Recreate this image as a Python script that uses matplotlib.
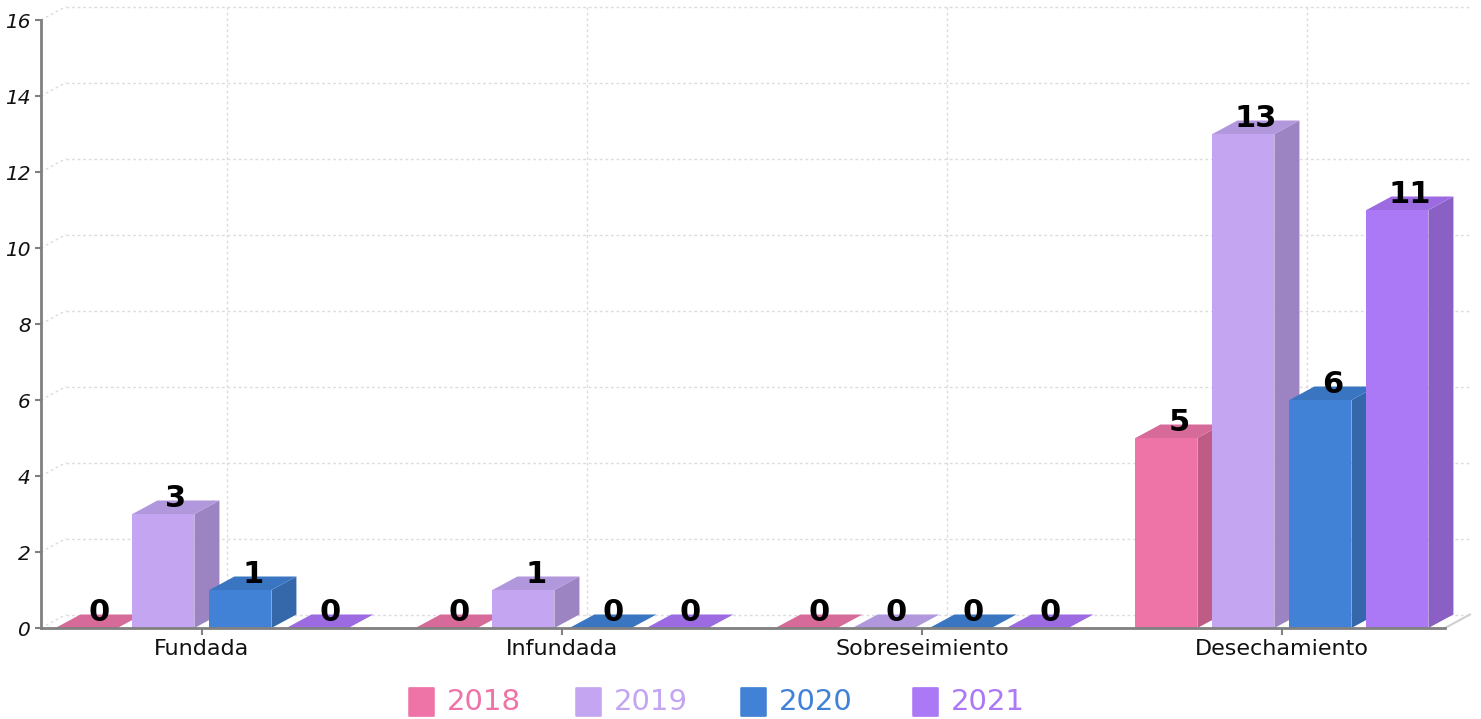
import matplotlib
matplotlib.use("Agg")
import matplotlib.pyplot as plt
from matplotlib.patches import Polygon, FancyBboxPatch

# Resoluciones por tipo y año
categorias = ["Fundada", "Infundada", "Sobreseimiento", "Desechamiento"]
anios = ["2018", "2019", "2020", "2021"]
valores = {
    "2018": [0, 0, 0, 5],
    "2019": [3, 1, 0, 13],
    "2020": [1, 0, 0, 6],
    "2021": [0, 0, 0, 11],
}
y_ticks = list(range(0, 17, 2))

# colores: frente, lado, tapa
colores = {
    "2018": ("#EE74A8", "#BE5C86", "#D66A99"),
    "2019": ("#C4A5F2", "#9C84C2", "#B197DC"),
    "2020": ("#4182D6", "#3468AB", "#3A75C2"),
    "2021": ("#AB78F6", "#8A60C5", "#9C6BE2"),
}

W, H = 1481, 719
fig = plt.figure(figsize=(W / 100, H / 100), dpi=100)
ax_l, ax_b, ax_w, ax_h = 41, 91, 1404, 608
ax = fig.add_axes([ax_l / W, ax_b / H, ax_w / W, ax_h / H])
x0, x1 = -0.447, 3.453
ax.set_xlim(x0, x1)
ax.set_ylim(0, 16)

# profundidad del efecto 3D en unidades de datos
ux = (x1 - x0) / ax_w
uy = 16 / ax_h
DX = 25 * ux
DY = 13.5 * uy

grid_kw = dict(color="#dcdcdc", lw=1, ls=(0, (2, 2)), clip_on=False, zorder=0)
for v in y_ticks:
    ax.plot([x0, x0 + DX], [v, v + DY], **grid_kw)
    ax.plot([x0 + DX, x1 + DX], [v + DY, v + DY], **grid_kw)
for i in range(len(categorias)):
    ax.plot([i + DX, i + DX], [DY, 16 + DY], **grid_kw)
# borde derecho del piso
ax.plot([x1, x1 + DX], [0, DY], color="#d0d0d0", lw=1.5, clip_on=False, zorder=1)

ancho = 62 * ux
paso = 77 * ux
n = len(anios)
for i, cat in enumerate(categorias):
    for j, anio in enumerate(anios):
        v = valores[anio][i]
        xl = i + (j - (n - 1) / 2) * paso - ancho / 2
        xr = xl + ancho
        frente, lado, tapa = colores[anio]
        z = 3 + j
        if v > 0:
            ax.add_patch(Polygon([(xr, 0), (xr + DX, DY), (xr + DX, v + DY), (xr, v)],
                                 closed=True, fc=lado, ec="none", zorder=z, clip_on=False))
            ax.add_patch(Polygon([(xl, v), (xl + DX, v + DY), (xr + DX, v + DY), (xr, v)],
                                 closed=True, fc=tapa, ec="none", zorder=z, clip_on=False))
            ax.add_patch(Polygon([(xl, 0), (xl, v), (xr, v), (xr, 0)],
                                 closed=True, fc=frente, ec="none", zorder=z, clip_on=False))
        else:
            ax.add_patch(Polygon([(xl, 0), (xl + DX, DY), (xr + DX, DY), (xr, 0)],
                                 closed=True, fc=tapa, ec="none", zorder=z, clip_on=False))
        ax.text((xl + xr) / 2 + DX / 2, v + DY / 2, str(v), ha="center", va="baseline",
                fontsize=22, fontweight="heavy", color="black", zorder=20, clip_on=False)

for s in ["top", "right"]:
    ax.spines[s].set_visible(False)
for s in ["left", "bottom"]:
    ax.spines[s].set_color("#808080")
    ax.spines[s].set_linewidth(2)
    ax.spines[s].set_zorder(10)

ax.set_yticks(y_ticks)
ax.set_yticklabels([str(t) for t in y_ticks], fontsize=14.5, style="italic", color="#111111")
ax.tick_params(axis="y", length=4.5, width=1.5, color="#808080", pad=3)
ax.set_xticks(range(len(categorias)))
ax.set_xticklabels(categorias, fontsize=16, color="#111111")
ax.tick_params(axis="x", length=5, width=1.5, color="#808080", pad=3)
ax.set_facecolor("none")

# leyenda
leg_x = [410, 577, 742, 914]
for anio, lx in zip(anios, leg_x):
    frente = colores[anio][0]
    fig.patches.append(FancyBboxPatch((lx / W, 3 / H), 23 / W, 28 / H,
                                      boxstyle="round,pad=0.0012", fc=frente, ec="none",
                                      transform=fig.transFigure, figure=fig))
    fig.text((lx + 37) / W, 17 / H, anio, ha="left", va="center", fontsize=21,
             color=frente)

fig.savefig("out.png", dpi=100)
